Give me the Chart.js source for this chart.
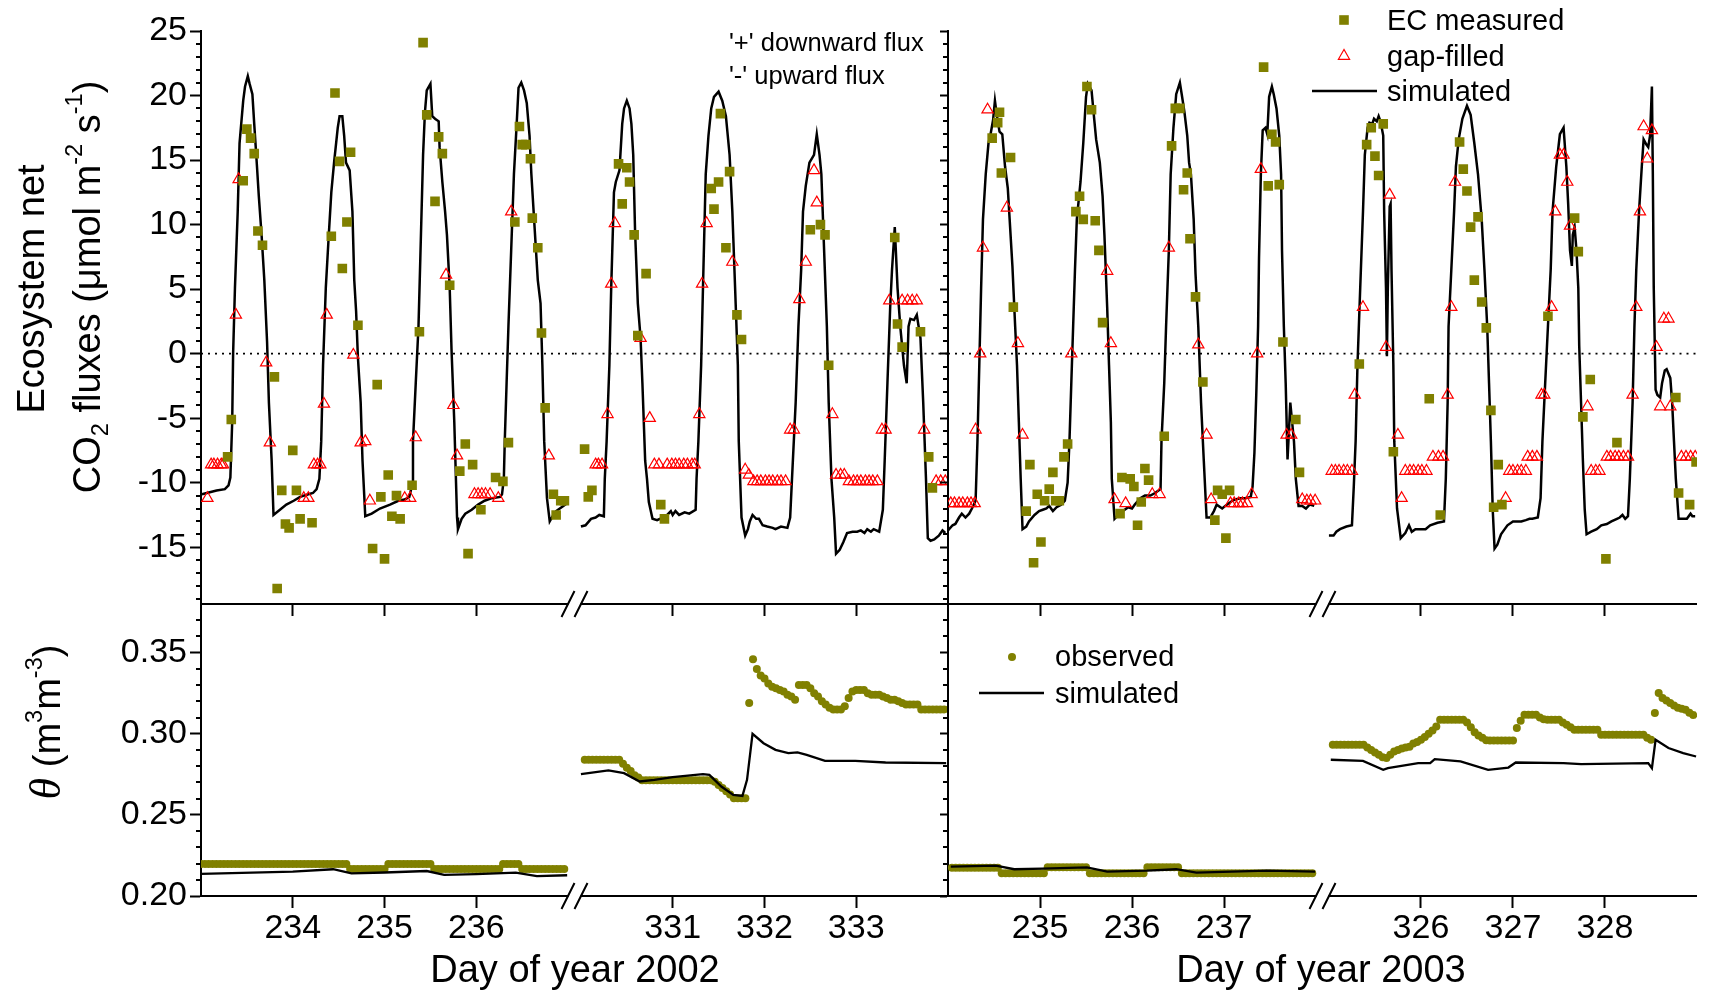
<!DOCTYPE html>
<html>
<head>
<meta charset="utf-8">
<script src="https://cdn.jsdelivr.net/npm/chart.js@4.4.0/dist/chart.umd.min.js"></script>
<style>
body { margin: 0; background: #fff; }
#fig { position: relative; width: 1720px; height: 993px; overflow: hidden; font-family: "Liberation Sans", Arial, sans-serif; color: #000; }
#fig canvas { position: absolute; }
.t { position: absolute; white-space: nowrap; line-height: 1; }
.vc { transform: translateY(-50%); }
.cc { transform: translate(-50%, -50%); }
.rot { transform: translate(-50%, -50%) rotate(-90deg); }
sub, sup { font-size: 0.62em; line-height: 0; position: relative; vertical-align: baseline; }
sup { top: -0.78em; }
sub { top: 0.32em; }
</style>
</head>
<body>
<div id="fig">
  <canvas id="cTL" width="948" height="620" style="left:0;top:0"></canvas>
  <canvas id="cTR" width="761" height="620" style="left:936px;top:0"></canvas>
  <canvas id="cBL" width="948" height="419" style="left:0;top:574px"></canvas>
  <canvas id="cBR" width="761" height="419" style="left:936px;top:574px"></canvas>

  <svg width="1720" height="993" style="position:absolute;left:0;top:0;pointer-events:none">
    <rect x="1339.2" y="15.2" width="9.6" height="9.6" fill="#808000"></rect>
    <polygon points="1344,49.5 1338.4,59.3 1349.6,59.3" fill="none" stroke="#ff0000" stroke-width="1.2"></polygon>
    <line x1="1312" y1="91" x2="1377" y2="91" stroke="#000" stroke-width="2.4"></line>
    <circle cx="1012" cy="657" r="4" fill="#808000"></circle>
    <line x1="979" y1="693" x2="1044" y2="693" stroke="#000" stroke-width="2.4"></line>
  </svg>

  <div class="t rot" style="left:31px;top:289px;font-size:38px">Ecosystem net</div>
  <div class="t rot" style="left:87px;top:287px;font-size:38px">CO<sub>2</sub> fluxes (μmol m<sup>-2</sup> s<sup>-1</sup>)</div>
  <div class="t rot" style="left:46px;top:722px;font-size:38px"><span style="font-family:'Liberation Serif',serif;font-style:italic;font-size:44px">θ</span> (m<sup>3</sup>m<sup>-3</sup>)</div>

  <div class="t vc" style="left:729px;top:43px;font-size:25.5px">'+' downward flux</div>
  <div class="t vc" style="left:729px;top:76px;font-size:25.5px">'-' upward flux</div>

  <div class="t vc" style="left:1387px;top:20px;font-size:29px">EC measured</div>
  <div class="t vc" style="left:1387px;top:56px;font-size:29px">gap-filled</div>
  <div class="t vc" style="left:1387px;top:91px;font-size:29px">simulated</div>

  <div class="t vc" style="left:1055px;top:656px;font-size:29px">observed</div>
  <div class="t vc" style="left:1055px;top:693px;font-size:29px">simulated</div>

  <div class="t cc" style="left:575px;top:969px;font-size:38px">Day of year 2002</div>
  <div class="t cc" style="left:1321px;top:969px;font-size:38px">Day of year 2003</div>
</div>

<script>
const FONT = '"Liberation Sans", Arial, sans-serif';
const OLIVE = '#808000';

// tick labels
const fluxTicks = [-15, -10, -5, 0, 5, 10, 15, 20, 25];
const thetaTicks = [0.20, 0.25, 0.30, 0.35];
const days02a = [234, 235, 236];
const days02b = [331, 332, 333];
const days03a = [235, 236, 237];
const days03b = [326, 327, 328];

// ---- 2002, days 233-237 : CO2 flux ----
const simX02a = [233.01,233.17,233.26,233.30,233.32,233.34,233.35,233.37,233.40,233.42,
  233.46,233.48,233.51,233.53,233.56,233.58,233.61,233.63,233.66,233.69,
  233.72,233.74,233.77,233.79,233.86,233.93,234.01,234.08,234.17,234.22,
  234.26,234.29,234.31,234.33,234.36,234.39,234.42,234.45,234.49,234.51,
  234.54,234.56,234.58,234.62,234.65,234.67,234.69,234.71,234.74,234.76,
  234.79,234.86,234.95,235.06,235.15,235.22,235.27,235.30,235.31,235.34,
  235.37,235.39,235.42,235.44,235.46,235.50,235.52,235.55,235.59,235.60,
  235.63,235.66,235.68,235.71,235.73,235.76,235.79,235.80,235.84,235.88,
  235.95,236.02,236.09,236.17,236.26,236.28,236.30,236.31,236.33,236.35,
  236.38,236.41,236.44,236.46,236.49,236.52,236.55,236.58,236.60,236.64,
  236.67,236.70,236.72,236.74,236.77,236.80,236.84,236.87,236.91,236.99];
const simY02a = [-10.9,-10.6,-10.5,-10.2,-9.6,-5.3,0.0,5.1,11.0,16.3,
  19.6,20.7,21.5,20.9,20.1,17.8,14.5,12.2,9.2,5.7,
  0.9,-3.8,-8.3,-12.5,-12.1,-11.7,-11.4,-11.1,-10.9,-10.8,
  -10.5,-9.7,-6.8,-0.9,5.1,8.9,12.5,14.8,17.5,18.4,
  18.4,16.9,14.8,14.2,11.0,5.7,3.3,-0.3,-3.8,-8.3,
  -12.6,-12.4,-12.0,-11.7,-11.4,-11.3,-11.1,-10.2,-6.8,-2.3,
  2.1,7.4,15.4,18.7,20.4,20.9,18.4,18.2,18.0,16.0,
  13.3,11.0,9.2,5.1,0.3,-5.3,-12.7,-13.6,-12.8,-12.4,
  -12.1,-11.7,-11.4,-11.2,-11.1,-10.9,-9.7,-6.8,-2.3,2.1,
  8.0,13.9,17.8,20.6,21.0,20.4,19.4,16.9,13.9,9.2,
  5.7,3.9,-0.9,-6.8,-11.2,-13.0,-12.5,-12.2,-12.0,-11.6];
const ecX02a = [233.29,233.33,233.46,233.50,233.54,233.58,233.62,233.67,233.80,233.83,
  233.88,233.92,233.96,234.00,234.04,234.08,234.21,234.42,234.46,234.51,
  234.54,234.59,234.63,234.71,234.87,234.92,234.96,235.00,235.04,235.08,
  235.13,235.17,235.30,235.38,235.42,235.46,235.55,235.59,235.63,235.71,
  235.82,235.88,235.91,235.96,236.05,236.21,236.29,236.35,236.42,236.47,
  236.50,236.54,236.59,236.61,236.67,236.71,236.75,236.84,236.87,236.92,236.96];
const ecY02a = [-8.0,-5.1,13.4,17.4,16.7,15.5,9.5,8.4,-1.8,-18.2,
  -10.6,-13.2,-13.5,-7.5,-10.6,-12.8,-13.1,9.1,20.2,14.9,
  6.6,10.2,15.6,2.2,-15.1,-2.4,-11.1,-15.9,-9.4,-12.6,
  -11.0,-12.8,-10.2,1.7,24.1,18.5,11.8,16.8,15.5,5.3,
  -9.1,-7.0,-15.5,-8.6,-12.1,-9.6,-9.9,-6.9,10.2,17.6,
  16.2,16.2,15.1,10.5,8.2,1.6,-4.2,-10.9,-12.5,-11.4,-11.4];
const gfX02a = [233.07,233.11,233.14,233.18,233.22,233.24,233.38,233.41,233.71,233.75,
  234.12,234.17,234.23,234.27,234.30,234.34,234.37,234.66,234.74,234.79,
  234.84,235.22,235.28,235.34,235.67,235.75,235.79,235.98,236.02,236.06,
  236.10,236.15,236.24,236.38,236.79];
const gfY02a = [-11.2,-8.6,-8.6,-8.6,-8.6,-8.6,3.0,13.5,-0.7,-6.9,
  -11.2,-11.2,-8.6,-8.6,-8.6,-3.9,3.0,-0.1,-6.9,-6.8,
  -11.4,-11.2,-11.2,-6.5,6.1,-4.0,-7.9,-10.9,-10.9,-10.9,
  -10.9,-10.9,-11.2,11.0,-7.9];

// ---- 2002, days 330-334 : CO2 flux ----
const simX02b = [330.00,330.05,330.11,330.16,330.20,330.25,330.26,330.28,330.31,330.33,
  330.36,330.38,330.42,330.45,330.47,330.50,330.53,330.55,330.57,330.59,
  330.62,330.65,330.67,330.70,330.72,330.74,330.78,330.83,330.89,330.94,
  330.98,331.00,331.03,331.07,331.13,331.18,331.25,331.26,331.28,331.31,
  331.33,331.36,331.39,331.42,331.45,331.50,331.54,331.58,331.62,331.65,
  331.68,331.71,331.72,331.75,331.79,331.82,331.84,331.87,331.91,331.94,
  331.98,332.03,332.09,332.12,332.18,332.25,332.28,332.30,332.34,332.37,
  332.40,332.42,332.45,332.49,332.54,332.57,332.60,332.62,332.65,332.68,
  332.70,332.73,332.76,332.78,332.82,332.86,332.90,332.96,333.01,333.05,
  333.09,333.12,333.16,333.19,333.25,333.29,333.31,333.34,333.37,333.39,
  333.42,333.45,333.48,333.52,333.55,333.57,333.59,333.63,333.66,333.68,
  333.70,333.73,333.76,333.78,333.81,333.85,333.90,333.94,333.97];
const simY02b = [-13.4,-13.3,-12.8,-12.7,-12.5,-12.6,-9.7,-6.8,-0.9,5.1,
  12.5,13.3,14.2,17.8,19.0,19.6,19.0,17.8,15.4,9.5,
  3.9,1.2,-2.3,-8.3,-9.7,-11.5,-12.8,-12.9,-12.7,-12.5,
  -12.2,-12.5,-12.2,-12.5,-12.3,-12.4,-12.1,-9.7,-6.8,-0.9,
  5.1,13.9,16.9,19.0,19.9,20.3,19.6,18.4,15.4,11.0,
  5.1,-0.9,-6.8,-12.7,-14.1,-13.6,-13.0,-12.5,-12.8,-12.8,
  -13.3,-13.4,-13.5,-13.6,-13.4,-13.5,-12.7,-9.7,-3.8,2.1,
  6.5,11.0,13.0,14.8,15.4,17.0,15.4,13.9,8.0,2.1,
  -3.8,-9.7,-12.7,-15.5,-15.2,-14.6,-13.9,-13.8,-13.8,-13.7,
  -13.9,-13.6,-13.8,-13.6,-13.8,-12.1,-8.3,-2.3,3.6,6.5,
  9.8,5.1,2.1,-0.9,-2.3,2.1,2.7,2.6,3.0,2.1,
  1.2,-3.8,-9.7,-14.3,-14.5,-14.4,-14.1,-13.7,-13.9];
const ecX02b = [330.04,330.08,330.12,330.41,330.45,330.50,330.53,330.58,330.62,330.71,
  330.87,330.91,331.42,331.45,331.50,331.52,331.58,331.62,331.70,331.75,
  332.50,332.61,332.66,332.70,333.42,333.45,333.50,333.70,333.79,333.83];
const ecY02b = [-7.4,-11.1,-10.6,14.7,11.6,14.4,13.3,9.2,1.4,6.2,
  -11.7,-12.8,12.8,11.2,13.3,18.6,8.2,14.1,3.0,1.1,
  9.6,10.0,9.2,-0.9,9.0,2.3,0.5,1.7,-8.0,-10.4];
const gfX02b = [330.16,330.19,330.23,330.29,330.33,330.37,330.65,330.75,330.80,330.85,
  330.94,330.99,331.03,331.07,331.12,331.16,331.21,331.24,331.29,331.32,
  331.37,331.65,331.79,331.83,331.88,331.92,331.96,332.01,332.05,332.09,
  332.14,332.18,332.23,332.28,332.32,332.38,332.45,332.54,332.57,332.74,
  332.78,332.83,332.87,332.92,332.97,333.01,333.05,333.10,333.14,333.18,
  333.23,333.28,333.32,333.36,333.50,333.56,333.61,333.66,333.74,333.87,
  333.92,333.97];
const gfY02b = [-8.6,-8.6,-8.6,-4.7,5.4,10.1,1.2,-5.0,-8.6,-8.6,
  -8.6,-8.6,-8.6,-8.6,-8.6,-8.6,-8.6,-8.6,-4.7,5.4,
  10.1,7.1,-9.0,-9.4,-9.9,-9.9,-9.9,-9.9,-9.9,-9.9,
  -9.9,-9.9,-9.9,-5.9,-5.9,4.2,7.1,14.2,11.7,-4.7,
  -9.4,-9.4,-9.4,-9.9,-9.9,-9.9,-9.9,-9.9,-9.9,-9.9,
  -9.9,-5.9,-5.9,4.1,4.1,4.1,4.1,4.1,-5.9,-9.9,
  -9.9,-9.9];

// ---- 2003, days 234-238 : CO2 flux ----
const simX03a = [234.00,234.05,234.08,234.12,234.15,234.19,234.23,234.26,234.30,234.32,
  234.34,234.36,234.38,234.41,234.44,234.46,234.49,234.51,234.53,234.56,
  234.59,234.62,234.65,234.67,234.70,234.73,234.75,234.77,234.79,234.81,
  234.85,234.88,234.94,234.99,235.03,235.07,235.10,235.14,235.18,235.23,
  235.27,235.30,235.32,235.34,235.36,235.38,235.40,235.44,235.47,235.50,
  235.52,235.56,235.59,235.61,235.65,235.68,235.70,235.73,235.75,235.77,
  235.78,235.81,235.85,235.90,235.96,236.00,236.03,236.09,236.14,236.20,
  236.25,236.31,236.32,236.35,236.37,236.40,236.42,236.45,236.48,236.52,
  236.54,236.57,236.60,236.62,236.64,236.67,236.69,236.72,236.75,236.78,
  236.81,236.85,236.89,236.92,236.98,237.03,237.09,237.12,237.18,237.23,
  237.29,237.31,237.33,237.35,237.37,237.38,237.40,237.42,237.45,237.47,
  237.49,237.52,237.54,237.57,237.60,237.62,237.63,237.65,237.67,237.69,
  237.71,237.72,237.74,237.76,237.78,237.81,237.85,237.89,237.93,237.98];
const simY03a = [-13.7,-13.3,-13.2,-12.7,-12.4,-12.7,-12.4,-12.0,-11.4,-6.8,
  -0.9,5.1,10.4,13.9,16.3,16.9,18.1,19.6,18.5,17.2,
  17.0,14.5,12.8,10.4,6.8,2.1,-0.9,-5.3,-9.7,-13.6,
  -13.4,-13.0,-12.5,-12.2,-12.1,-12.0,-11.8,-12.2,-11.9,-11.7,
  -11.4,-10.0,-6.8,-2.3,2.1,6.5,10.4,13.3,16.3,19.9,
  20.9,20.4,18.1,16.6,14.8,12.2,9.2,3.6,-0.9,-5.3,
  -9.7,-12.8,-12.5,-12.2,-11.9,-12.0,-11.7,-11.2,-11.0,-11.0,
  -10.8,-10.5,-6.8,-2.3,2.1,8.0,13.9,17.5,20.1,21.0,
  20.1,18.7,16.9,14.8,13.9,10.4,6.2,2.1,-3.8,-8.3,
  -12.7,-12.7,-12.2,-11.7,-12.0,-11.7,-11.4,-11.3,-11.2,-11.2,
  -11.1,-10.3,-7.7,-3.2,2.1,7.4,13.9,17.3,17.5,17.0,
  19.9,20.7,20.1,19.0,16.9,13.9,8.0,2.1,-2.3,-8.2,
  -5.3,-3.8,-5.3,-6.8,-9.7,-11.8,-11.8,-12.0,-11.7,-11.8];
const ecX03a = [234.48,234.54,234.56,234.58,234.68,234.71,234.85,234.89,234.93,234.97,
  235.01,235.05,235.10,235.14,235.17,235.21,235.26,235.30,235.39,235.43,
  235.47,235.51,235.56,235.60,235.64,235.68,235.87,235.89,235.98,236.02,
  236.06,236.10,236.14,236.18,236.35,236.43,236.47,236.52,236.56,236.60,
  236.63,236.69,236.77,236.90,236.93,236.98,237.02,237.06,237.43,237.48,
  237.52,237.56,237.60,237.64,237.78,237.82];
const ecY03a = [16.7,17.9,18.7,14.0,15.2,3.6,-12.2,-8.6,-16.2,-10.9,
  -14.6,-11.4,-10.5,-9.2,-11.4,-11.4,-8.0,-7.0,11.0,12.2,
  10.4,20.7,18.9,10.3,8.0,2.4,-12.4,-9.6,-9.7,-10.3,
  -13.3,-11.5,-8.9,-9.8,-6.4,16.1,19.0,19.0,12.7,14.0,
  8.9,4.4,-2.2,-12.9,-10.6,-10.9,-14.3,-10.6,22.2,13.0,
  17.0,16.4,13.1,0.9,-5.1,-9.2];
const gfX03a = [234.03,234.07,234.12,234.16,234.21,234.25,234.29,234.30,234.35,234.38,
  234.43,234.64,234.76,234.81,235.34,235.73,235.77,235.81,235.93,236.22,
  236.30,236.40,236.72,236.81,236.86,237.07,237.11,237.16,237.20,237.25,
  237.30,237.36,237.40,237.68,237.73,237.85,237.90,237.94,237.99];
const gfY03a = [-11.6,-11.6,-11.6,-11.6,-11.6,-11.6,-11.6,-5.9,0.0,8.2,
  18.9,11.3,0.8,-6.3,0.0,6.4,0.8,-11.3,-11.6,-10.9,
  -10.9,8.2,0.7,-6.3,-11.3,-11.6,-11.6,-11.6,-11.6,-11.6,
  -10.9,0.0,14.3,-6.3,-6.3,-11.3,-11.4,-11.4,-11.4];

// ---- 2003, days 325-329 : CO2 flux ----
const simX03b = [325.00,325.05,325.08,325.12,325.19,325.25,325.27,325.29,325.31,325.34,
  325.37,325.39,325.42,325.44,325.47,325.49,325.52,325.54,325.56,325.59,
  325.60,325.62,325.63,325.64,325.66,325.67,325.68,325.70,325.71,325.74,
  325.78,325.83,325.87,325.90,325.94,325.99,326.05,326.10,326.18,326.25,
  326.27,326.29,326.30,326.33,326.36,326.38,326.41,326.45,326.50,326.54,
  326.58,326.62,326.66,326.69,326.72,326.74,326.76,326.78,326.80,326.83,
  326.87,326.91,326.94,327.00,327.04,327.09,327.14,327.18,327.21,327.27,
  327.30,327.32,327.35,327.38,327.41,327.43,327.47,327.51,327.55,327.58,
  327.60,327.62,327.64,327.65,327.67,327.69,327.71,327.72,327.74,327.76,
  327.78,327.80,327.85,327.91,327.96,328.02,328.07,328.13,328.16,328.19,
  328.22,328.25,328.27,328.30,328.32,328.34,328.37,328.40,328.42,328.45,
  328.47,328.49,328.51,328.52,328.53,328.55,328.57,328.60,328.62,328.65,
  328.67,328.71,328.73,328.75,328.77,328.80,328.85,328.89,328.93,328.95,
  328.98];
const simY03b = [-14.1,-14.1,-13.8,-13.6,-13.4,-13.3,-10.3,-6.8,-0.9,5.1,
  11.0,15.4,17.5,17.9,17.8,18.2,18.0,18.4,18.0,16.9,
  11.0,5.1,-0.2,5.1,11.4,11.6,6.5,-0.9,-6.8,-12.0,
  -14.3,-13.9,-13.3,-13.8,-13.6,-13.6,-13.6,-13.3,-13.1,-13.0,
  -9.7,-3.8,2.1,6.5,11.0,14.5,16.6,18.2,19.2,18.5,
  16.3,13.9,10.4,6.5,2.1,-2.3,-6.8,-12.1,-15.1,-14.8,
  -14.0,-13.6,-13.3,-13.0,-13.0,-13.0,-12.9,-12.8,-12.8,-12.7,
  -11.2,-6.8,-2.3,2.1,6.5,11.0,14.5,17.0,17.5,14.5,
  11.6,8.0,6.8,9.2,9.8,8.0,5.1,0.6,-3.8,-8.3,
  -12.1,-14.0,-13.8,-13.6,-13.3,-13.2,-13.0,-12.8,-12.7,-12.5,
  -12.8,-12.6,-9.7,-3.8,2.1,6.5,11.0,14.5,16.6,16.2,
  16.0,16.9,20.7,13.9,5.1,-2.8,-3.2,-3.4,-2.3,-1.3,
  -1.2,-1.9,-3.8,-6.8,-9.7,-12.8,-12.8,-12.8,-12.4,-12.6,
  -12.6];
const ecX03b = [325.33,325.41,325.46,325.50,325.54,325.59,325.70,326.09,326.21,326.42,
  326.46,326.50,326.54,326.58,326.62,326.66,326.71,326.76,326.79,326.84,
  326.88,327.38,327.67,327.71,327.76,327.84,328.01,328.13,328.77,328.80,
  328.92,328.99];
const ecY03b = [-0.8,16.2,17.5,15.3,13.8,17.8,-7.6,-3.5,-12.5,16.4,
  14.3,12.6,9.8,5.7,10.6,4.0,2.0,-4.4,-11.9,-8.6,
  -11.7,2.9,10.5,7.9,-4.9,-2.0,-15.9,-6.9,-3.4,-10.8,
  -11.7,-8.4];
const gfX03b = [325.03,325.07,325.11,325.16,325.20,325.25,325.28,325.37,325.62,325.66,
  325.75,325.79,325.83,325.88,325.92,325.97,326.01,326.06,326.13,326.19,
  326.24,326.29,326.33,326.37,326.92,326.96,327.00,327.05,327.09,327.14,
  327.16,327.21,327.26,327.31,327.34,327.42,327.46,327.51,327.55,327.59,
  327.62,327.81,327.85,327.90,327.94,328.02,328.06,328.11,328.15,328.20,
  328.25,328.30,328.34,328.38,328.42,328.46,328.51,328.56,328.60,328.64,
  328.69,328.71,328.83,328.88,328.93,328.98];
const gfY03b = [-9.1,-9.1,-9.1,-9.1,-9.1,-9.1,-3.2,3.6,0.5,12.3,
  -6.3,-11.2,-9.1,-9.1,-9.1,-9.1,-9.1,-9.1,-8.0,-8.0,
  -8.0,-3.2,3.6,13.3,-11.2,-9.1,-9.1,-9.1,-9.1,-9.1,
  -8.0,-8.0,-8.0,-3.2,-3.2,3.6,11.0,15.4,15.4,13.3,
  9.9,-4.1,-9.1,-9.1,-9.1,-8.0,-8.0,-8.0,-8.0,-8.0,
  -8.0,-3.2,3.6,11.0,17.6,15.1,17.3,0.5,-4.1,2.7,
  2.7,-4.1,-8.0,-8.0,-8.0,-8.0];

// ---- soil moisture (theta), observed hourly, simulated ----
const obsStep = 1 / 24;
const obsStart02a = 233.0;
const obsTh02a = [0.2198,0.2198,0.2198,0.2198,0.2198,0.2198,0.2198,0.2198,0.2198,0.2198,
  0.2198,0.2198,0.2198,0.2198,0.2198,0.2198,0.2198,0.2198,0.2198,0.2198,
  0.2198,0.2198,0.2198,0.2198,0.2198,0.2198,0.2198,0.2198,0.2198,0.2198,
  0.2198,0.2198,0.2198,0.2198,0.2198,0.2198,0.2198,0.2198,0.2198,
  0.2166,0.2166,0.2166,0.2166,0.2166,0.2166,0.2166,0.2166,0.2166,0.2166,
  0.2198,0.2198,0.2198,0.2198,0.2198,0.2198,0.2198,0.2198,0.2198,0.2198,0.2198,0.2198,
  0.2166,0.2166,0.2166,0.2166,0.2166,0.2166,0.2166,0.2166,0.2166,
  0.2166,0.2166,0.2166,0.2166,0.2166,0.2166,0.2166,0.2166,0.2166,
  0.2198,0.2198,0.2198,0.2198,0.2198,
  0.2166,0.2166,0.2166,0.2166,0.2166,0.2166,0.2166,0.2166,0.2166,0.2166,0.2166,0.2166];
const obsStart02b = 330.042;
const obsTh02b = [0.284,0.284,0.284,0.284,0.284,0.284,0.284,0.284,0.284,0.284,
  0.2815,0.279,0.277,0.2745,0.273,0.2714,
  0.2714,0.2714,0.2714,0.2714,0.2714,0.2714,0.2714,0.2714,0.2714,
  0.2714,0.2714,0.2714,0.2714,0.2714,0.2714,0.2714,0.2714,0.2714,
  0.2705,0.2685,0.2665,0.2645,0.2625,0.2603,0.2603,0.2603,0.2603,
  0.3189,0.346,0.340,0.336,0.334,0.331,0.329,0.328,0.327,0.326,
  0.324,0.323,0.321,0.330,0.330,0.330,0.328,0.325,0.323,0.320,
  0.318,0.316,0.315,0.315,0.315,0.317,0.322,0.326,0.327,0.327,
  0.327,0.325,0.324,0.324,0.324,0.323,0.322,0.321,0.321,0.320,
  0.319,0.318,0.318,0.318,0.318,
  0.315,0.315,0.315,0.315,0.315,0.315,0.315];
const obsStart03a = 234.042;
const obsTh03a = [0.2174,0.2174,0.2174,0.2174,0.2174,0.2174,0.2174,0.2174,0.2174,0.2174,0.2174,0.2174,0.2174,
  0.2141,0.2141,0.2141,0.2141,0.2141,0.2141,0.2141,0.2141,0.2141,0.2141,0.2141,0.2141,
  0.2177,0.2177,0.2177,0.2177,0.2177,0.2177,0.2177,0.2177,0.2177,0.2177,0.2177,
  0.2141,0.2141,0.2141,0.2141,0.2141,0.2141,0.2141,0.2141,0.2141,0.2141,0.2141,0.2141,0.2141,0.2141,0.2141,
  0.2177,0.2177,0.2177,0.2177,0.2177,0.2177,0.2177,0.2177,0.2177,
  0.2141,0.2141,0.2141,0.2141,0.2141,0.2141,0.2141,0.2141,0.2141,0.2141,
  0.2141,0.2141,0.2141,0.2141,0.2141,0.2141,0.2141,0.2141,0.2141,0.2141,
  0.2141,0.2141,0.2141,0.2141,0.2141,0.2141,0.2141,0.2141,0.2141,0.2141,
  0.2141,0.2141,0.2141,0.2141,0.2141];
const obsStart03b = 325.042;
const obsTh03b = [0.2932,0.2932,0.2932,0.2932,0.2932,0.2932,0.2932,0.2932,0.2932,
  0.2915,0.290,0.2885,0.287,0.2855,0.285,0.287,0.289,0.290,0.291,
  0.2915,0.292,0.294,0.295,0.2963,0.298,0.300,0.302,0.3045,
  0.3086,0.3086,0.3086,0.3086,0.3086,0.3086,0.3086,
  0.307,0.304,0.301,0.299,0.2975,0.296,
  0.2959,0.2959,0.2959,0.2959,0.2959,0.2959,0.2959,
  0.3035,0.308,0.3117,0.3117,0.3117,0.3117,0.310,0.309,
  0.3086,0.3086,0.3086,0.3086,0.307,0.3056,0.304,
  0.3025,0.3025,0.3025,0.3025,0.3025,0.3025,0.3025,
  0.2994,0.2994,0.2994,0.2994,0.2994,0.2994,0.2994,0.2994,0.2994,0.2994,0.2994,0.2994,
  0.2975,0.2963,
  0.3128,0.3251,0.322,0.3205,0.319,0.3175,0.316,0.3155,0.3148,0.313,0.3115];

const simThX02a = [233.00,234.00,234.44,234.64,235.00,235.46,235.65,236.00,236.43,236.66,236.99];
const simThY02a = [0.2136,0.2150,0.2165,0.2140,0.2145,0.2154,0.2130,0.2135,0.2144,0.2123,0.2128];
const simThX02b = [330.00,330.30,330.47,330.64,330.80,331.00,331.33,331.40,331.53,331.66,331.76,
  331.81,331.87,331.99,332.12,332.26,332.36,332.46,332.66,332.99,333.32,333.98];
const simThY02b = [0.2751,0.2774,0.2757,0.2706,0.2716,0.2733,0.2751,0.2747,0.2675,0.2623,0.2617,
  0.2716,0.3000,0.2942,0.2901,0.2881,0.2885,0.2870,0.2833,0.2833,0.2823,0.2819];
const simThX03a = [234.03,234.52,234.72,235.02,235.51,235.73,236.16,236.48,236.70,237.47,237.99];
const simThY03a = [0.2181,0.2187,0.2165,0.2169,0.2177,0.2150,0.2156,0.2165,0.2144,0.2156,0.2150];
const simThX03b = [325.02,325.37,325.59,325.64,325.97,326.10,326.15,326.43,326.73,326.95,
  327.03,327.55,327.74,328.47,328.51,328.55,328.69,328.85,328.99];
const simThY03b = [0.2840,0.2833,0.2778,0.2788,0.2819,0.2819,0.2844,0.2830,0.2778,0.2792,
  0.2823,0.2819,0.2813,0.2819,0.2788,0.2963,0.2912,0.2881,0.2860];

// minor y ticks
const fluxMinor = [];
for (let v = -19; v <= 24; v++) if (v % 5 !== 0) fluxMinor.push(v);
const thetaMinor = [];
for (let k = 21; k <= 37; k++) if (k % 5 !== 0) thetaMinor.push(k / 100);

function pts(xs, ys) { return xs.map((x, i) => ({ x: x, y: ys[i] })); }
function hourly(start, ys) { return ys.map((y, i) => ({ x: start + i * obsStep, y: y })); }

function simLine(data, xid, w) {
  return { data: data, xAxisID: xid, yAxisID: 'y', borderColor: '#000', borderWidth: w || 2.5,
    pointRadius: 0, tension: 0, fill: false };
}
function ecPts(data, xid) {
  return { data: data, xAxisID: xid, yAxisID: 'y', showLine: false, pointStyle: 'rect',
    pointRadius: 6.8, pointBackgroundColor: OLIVE, pointBorderWidth: 0, borderColor: OLIVE };
}
function gfPts(data, xid) {
  return { data: data, xAxisID: xid, yAxisID: 'y', showLine: false, pointStyle: 'triangle',
    pointRadius: 6.5, pointBackgroundColor: 'rgba(0,0,0,0)', pointBorderColor: '#ff0000',
    pointBorderWidth: 1.2, borderColor: '#ff0000' };
}
function obsPts(data, xid) {
  return { data: data, xAxisID: xid, yAxisID: 'y', showLine: false, pointStyle: 'circle',
    pointRadius: 4, pointBackgroundColor: OLIVE, pointBorderWidth: 0, borderColor: OLIVE };
}
function zeroLine(min, max, xid) {
  return { data: [{ x: min, y: 0 }, { x: max, y: 0 }], xAxisID: xid, yAxisID: 'y',
    borderColor: '#000', borderWidth: 1.6, borderDash: [2, 5], pointRadius: 0 };
}

function yAxis(min, max, ticks, labels, width, tickLen, fmt) {
  return {
    type: 'linear', position: 'left', min: min, max: max,
    afterBuildTicks: s => { s.ticks = ticks.map(v => ({ value: v })); },
    afterFit: s => { s.width = width; s.paddingTop = 0; s.paddingBottom = 0; },
    border: { display: true, color: '#000', width: 2 },
    grid: { display: true, drawOnChartArea: false, drawTicks: true, tickLength: tickLen, tickWidth: 2, tickColor: '#000' },
    ticks: { display: labels, padding: 3, color: '#000', font: { family: FONT, size: 34 }, callback: v => fmt(v) }
  };
}
function xAxis(min, max, ticks, labels, height) {
  return {
    type: 'linear', position: 'bottom', stack: 'days', stackWeight: 1, min: min, max: max, offset: false,
    afterBuildTicks: s => { s.ticks = ticks.map(v => ({ value: v })); },
    afterFit: s => { s.height = height; s.paddingLeft = 0; s.paddingRight = 0; },
    border: { display: true, color: '#000', width: 2 },
    grid: { display: true, drawOnChartArea: false, drawTicks: true, tickLength: 12, tickWidth: 2, tickColor: '#000' },
    ticks: { display: labels, padding: 0, color: '#000', font: { family: FONT, size: 34 },
      maxRotation: 0, autoSkip: false, callback: v => String(v) }
  };
}

// short outward ticks between the labelled ones
const minorTicksPlugin = {
  id: 'minorTicks',
  afterDraw(chart, args, opts) {
    const s = chart.scales.y, ctx = chart.ctx;
    ctx.save();
    ctx.strokeStyle = '#000';
    ctx.lineWidth = 2;
    ctx.beginPath();
    opts.values.forEach(v => {
      const p = Math.round(s.getPixelForValue(v));
      ctx.moveTo(s.right, p);
      ctx.lineTo(s.right - opts.len, p);
    });
    ctx.stroke();
    ctx.restore();
  }
};
// "//" axis break where the two day ranges meet
const breakPlugin = {
  id: 'axisBreak',
  afterDraw(chart) {
    const x = chart.scales.xa.right, y = chart.chartArea.bottom, ctx = chart.ctx;
    ctx.save();
    ctx.fillStyle = '#fff';
    ctx.fillRect(x - 6, y - 3, 12, 6);
    ctx.strokeStyle = '#000';
    ctx.lineWidth = 2;
    ctx.beginPath();
    ctx.moveTo(x - 13, y + 13); ctx.lineTo(x, y - 13);
    ctx.moveTo(x, y + 13); ctx.lineTo(x + 13, y - 13);
    ctx.stroke();
    ctx.restore();
  }
};

function panel(id, o) {
  return new Chart(document.getElementById(id), {
    type: 'line',
    data: { datasets: o.datasets },
    options: {
      responsive: false, animation: false, events: [], devicePixelRatio: 1,
      layout: { padding: { top: o.padTop, left: 0, right: 0, bottom: 0 }, autoPadding: false },
      plugins: { legend: { display: false }, tooltip: { enabled: false },
        minorTicks: { values: o.minor, len: 5 } },
      scales: { y: o.y, xa: o.xa, xb: o.xb }
    },
    plugins: [minorTicksPlugin, breakPlugin]
  });
}

const fmtFlux = v => String(v);
const fmtTheta = v => v.toFixed(2);
const FLUX_MIN = -19.4, FLUX_MAX = 25;
const TH_MIN = 0.20, TH_MAX = 0.38;

// top left: flux 2002
panel('cTL', {
  padTop: 31, minor: fluxMinor,
  y: yAxis(FLUX_MIN, FLUX_MAX, fluxTicks, true, 201, 11, fmtFlux),
  xa: xAxis(233, 237.07, days02a, false, 16),
  xb: xAxis(329.93, 334, days02b, false, 16),
  datasets: [
    ecPts(pts(ecX02a, ecY02a), 'xa'), ecPts(pts(ecX02b, ecY02b), 'xb'),
    gfPts(pts(gfX02a, gfY02a), 'xa'), gfPts(pts(gfX02b, gfY02b), 'xb'),
    simLine(pts(simX02a, simY02a), 'xa'), simLine(pts(simX02b, simY02b), 'xb'),
    zeroLine(233, 237.07, 'xa'), zeroLine(329.93, 334, 'xb')
  ]
});
// top right: flux 2003
panel('cTR', {
  padTop: 31, minor: fluxMinor,
  y: yAxis(FLUX_MIN, FLUX_MAX, fluxTicks, false, 12, 8, fmtFlux),
  xa: xAxis(234, 238.07, days03a, false, 16),
  xb: xAxis(324.93, 329, days03b, false, 16),
  datasets: [
    ecPts(pts(ecX03a, ecY03a), 'xa'), ecPts(pts(ecX03b, ecY03b), 'xb'),
    gfPts(pts(gfX03a, gfY03a), 'xa'), gfPts(pts(gfX03b, gfY03b), 'xb'),
    simLine(pts(simX03a, simY03a), 'xa'), simLine(pts(simX03b, simY03b), 'xb'),
    zeroLine(234, 238.07, 'xa'), zeroLine(324.93, 329, 'xb')
  ]
});
// bottom left: theta 2002
panel('cBL', {
  padTop: 30, minor: thetaMinor,
  y: yAxis(TH_MIN, TH_MAX, thetaTicks, true, 201, 11, fmtTheta),
  xa: xAxis(233, 237.07, days02a, true, 97),
  xb: xAxis(329.93, 334, days02b, true, 97),
  datasets: [
    simLine(pts(simThX02a, simThY02a), 'xa', 2.3), simLine(pts(simThX02b, simThY02b), 'xb', 2.3),
    obsPts(hourly(obsStart02a, obsTh02a), 'xa'), obsPts(hourly(obsStart02b, obsTh02b), 'xb')
  ]
});
// bottom right: theta 2003
panel('cBR', {
  padTop: 30, minor: thetaMinor,
  y: yAxis(TH_MIN, TH_MAX, thetaTicks, false, 12, 8, fmtTheta),
  xa: xAxis(234, 238.07, days03a, true, 97),
  xb: xAxis(324.93, 329, days03b, true, 97),
  datasets: [
    simLine(pts(simThX03a, simThY03a), 'xa', 2.3), simLine(pts(simThX03b, simThY03b), 'xb', 2.3),
    obsPts(hourly(obsStart03a, obsTh03a), 'xa'), obsPts(hourly(obsStart03b, obsTh03b), 'xb')
  ]
});
</script>
</body>
</html>
